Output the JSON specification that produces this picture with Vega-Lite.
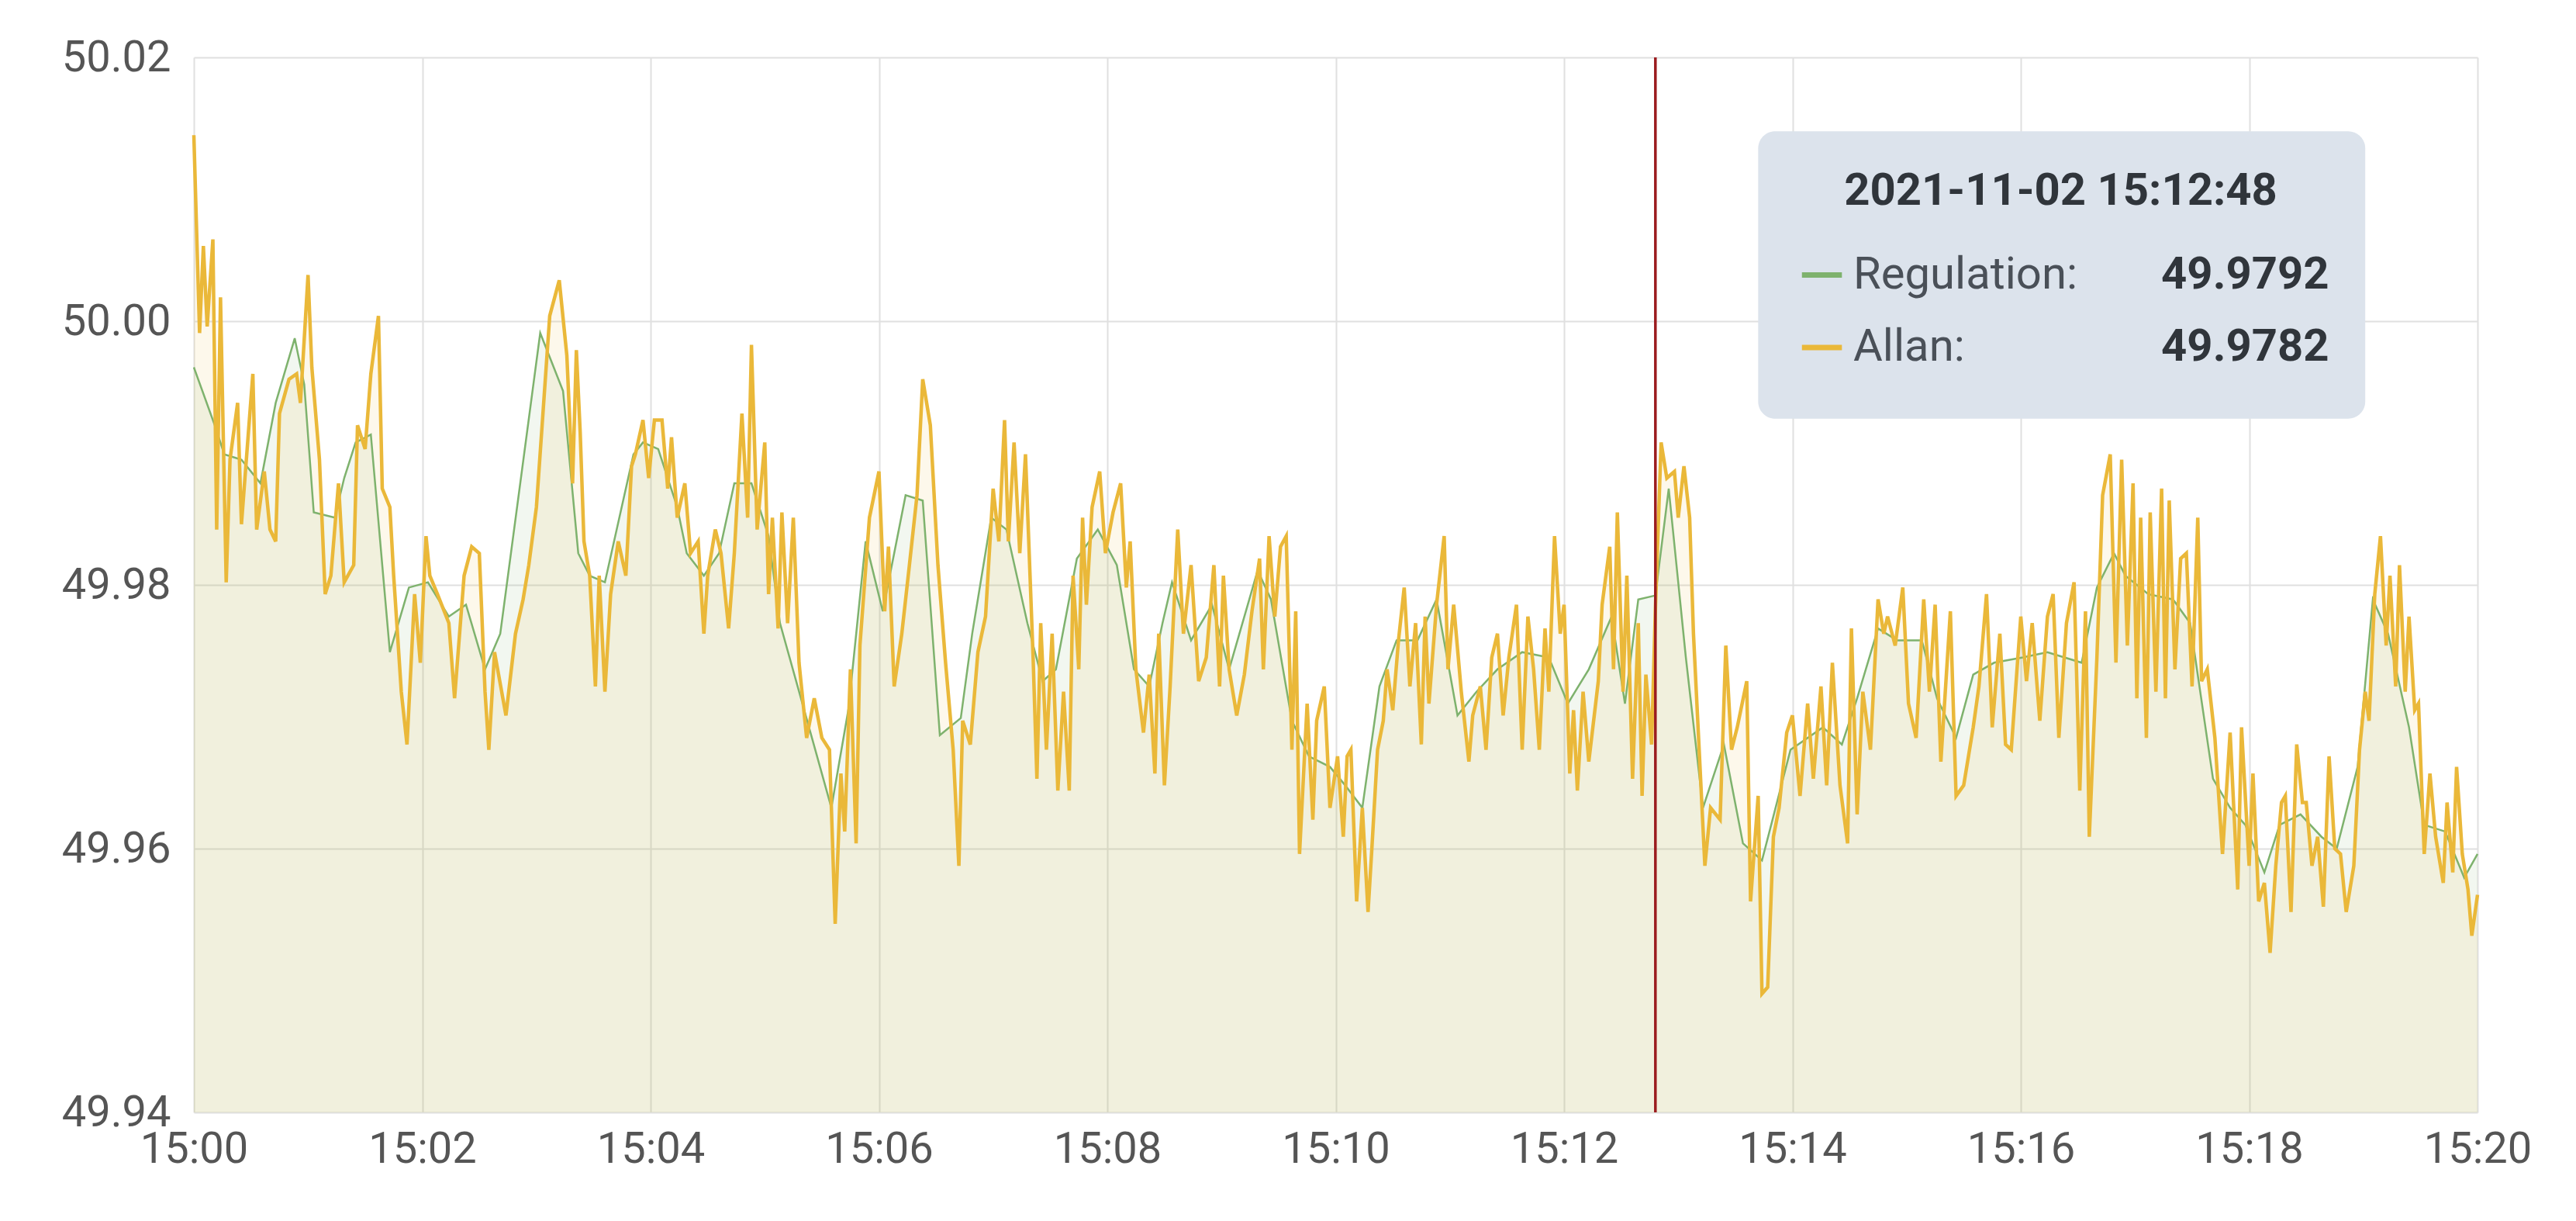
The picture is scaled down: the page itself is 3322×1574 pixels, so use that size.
{
"$schema":"https://vega.github.io/schema/vega-lite/v6.json",
"width":2945,"height":1360,
"autosize":{"type":"none"},
"padding":{"left":250,"top":74,"right":127,"bottom":140},
"background":"white",
"config":{"view":{"stroke":null},"font":"Roboto",
"axis":{"domain":false,"ticks":false,"grid":true,"gridColor":"#e0e0e0","gridWidth":2,"labelFont":"Roboto","labelFontSize":56,"labelColor":"#555555","title":null,"labelFlush":false,"labelOverlap":false}},
"datasets":{
"regulationData":[
{"t":"2021-11-02 15:00:00","v":49.9965},{"t":"2021-11-02 15:00:11","v":49.9921},{"t":"2021-11-02 15:00:16","v":49.9899},{"t":"2021-11-02 15:00:25","v":49.9895},{"t":"2021-11-02 15:00:35","v":49.9877},{"t":"2021-11-02 15:00:43","v":49.9938},{"t":"2021-11-02 15:00:53","v":49.9987},{"t":"2021-11-02 15:00:58","v":49.9952},{"t":"2021-11-02 15:01:03","v":49.9855},{"t":"2021-11-02 15:01:14","v":49.9851},{"t":"2021-11-02 15:01:19","v":49.9881},{"t":"2021-11-02 15:01:25","v":49.9908},{"t":"2021-11-02 15:01:33","v":49.9914},{"t":"2021-11-02 15:01:43","v":49.9749},{"t":"2021-11-02 15:01:53","v":49.9798},{"t":"2021-11-02 15:02:03","v":49.9802},{"t":"2021-11-02 15:02:14","v":49.9776},{"t":"2021-11-02 15:02:23","v":49.9785},{"t":"2021-11-02 15:02:33","v":49.9736},{"t":"2021-11-02 15:02:41","v":49.9763},{"t":"2021-11-02 15:03:02","v":49.9991},{"t":"2021-11-02 15:03:14","v":49.9947},{"t":"2021-11-02 15:03:22","v":49.9824},{"t":"2021-11-02 15:03:28","v":49.9807},{"t":"2021-11-02 15:03:36","v":49.9802},{"t":"2021-11-02 15:03:51","v":49.9899},{"t":"2021-11-02 15:03:56","v":49.9908},{"t":"2021-11-02 15:04:04","v":49.9903},{"t":"2021-11-02 15:04:14","v":49.9859},{"t":"2021-11-02 15:04:19","v":49.9824},{"t":"2021-11-02 15:04:28","v":49.9807},{"t":"2021-11-02 15:04:36","v":49.9824},{"t":"2021-11-02 15:04:44","v":49.9877},{"t":"2021-11-02 15:04:53","v":49.9877},{"t":"2021-11-02 15:05:02","v":49.9837},{"t":"2021-11-02 15:05:08","v":49.9771},{"t":"2021-11-02 15:05:19","v":49.9714},{"t":"2021-11-02 15:05:35","v":49.9631},{"t":"2021-11-02 15:05:44","v":49.9706},{"t":"2021-11-02 15:05:53","v":49.9833},{"t":"2021-11-02 15:06:02","v":49.978},{"t":"2021-11-02 15:06:14","v":49.9868},{"t":"2021-11-02 15:06:23","v":49.9864},{"t":"2021-11-02 15:06:32","v":49.9686},{"t":"2021-11-02 15:06:43","v":49.9699},{"t":"2021-11-02 15:06:49","v":49.9763},{"t":"2021-11-02 15:06:59","v":49.9851},{"t":"2021-11-02 15:07:07","v":49.9842},{"t":"2021-11-02 15:07:18","v":49.9771},{"t":"2021-11-02 15:07:26","v":49.9727},{"t":"2021-11-02 15:07:33","v":49.9736},{"t":"2021-11-02 15:07:44","v":49.982},{"t":"2021-11-02 15:07:55","v":49.9842},{"t":"2021-11-02 15:08:05","v":49.9815},{"t":"2021-11-02 15:08:14","v":49.9736},{"t":"2021-11-02 15:08:22","v":49.9723},{"t":"2021-11-02 15:08:29","v":49.9771},{"t":"2021-11-02 15:08:34","v":49.9802},{"t":"2021-11-02 15:08:44","v":49.9758},{"t":"2021-11-02 15:08:55","v":49.9785},{"t":"2021-11-02 15:09:04","v":49.9736},{"t":"2021-11-02 15:09:19","v":49.9811},{"t":"2021-11-02 15:09:26","v":49.9789},{"t":"2021-11-02 15:09:37","v":49.9697},{"t":"2021-11-02 15:09:46","v":49.967},{"t":"2021-11-02 15:09:57","v":49.9662},{"t":"2021-11-02 15:10:05","v":49.9648},{"t":"2021-11-02 15:10:14","v":49.9631},{"t":"2021-11-02 15:10:23","v":49.9723},{"t":"2021-11-02 15:10:32","v":49.9758},{"t":"2021-11-02 15:10:43","v":49.9758},{"t":"2021-11-02 15:10:53","v":49.9789},{"t":"2021-11-02 15:11:04","v":49.9701},{"t":"2021-11-02 15:11:14","v":49.9719},{"t":"2021-11-02 15:11:25","v":49.9736},{"t":"2021-11-02 15:11:38","v":49.9749},{"t":"2021-11-02 15:11:52","v":49.9745},{"t":"2021-11-02 15:12:02","v":49.971},{"t":"2021-11-02 15:12:13","v":49.9736},{"t":"2021-11-02 15:12:25","v":49.9776},{"t":"2021-11-02 15:12:32","v":49.971},{"t":"2021-11-02 15:12:39","v":49.9789},{"t":"2021-11-02 15:12:48","v":49.9792},{"t":"2021-11-02 15:12:55","v":49.9873},{"t":"2021-11-02 15:13:04","v":49.9745},{"t":"2021-11-02 15:13:13","v":49.9631},{"t":"2021-11-02 15:13:24","v":49.9679},{"t":"2021-11-02 15:13:34","v":49.9604},{"t":"2021-11-02 15:13:44","v":49.9591},{"t":"2021-11-02 15:13:59","v":49.9675},{"t":"2021-11-02 15:14:16","v":49.9692},{"t":"2021-11-02 15:14:26","v":49.9679},{"t":"2021-11-02 15:14:34","v":49.9714},{"t":"2021-11-02 15:14:45","v":49.9767},{"t":"2021-11-02 15:14:55","v":49.9758},{"t":"2021-11-02 15:15:08","v":49.9758},{"t":"2021-11-02 15:15:16","v":49.9714},{"t":"2021-11-02 15:15:26","v":49.9684},{"t":"2021-11-02 15:15:35","v":49.9732},{"t":"2021-11-02 15:15:46","v":49.9741},{"t":"2021-11-02 15:16:01","v":49.9745},{"t":"2021-11-02 15:16:14","v":49.9749},{"t":"2021-11-02 15:16:32","v":49.9741},{"t":"2021-11-02 15:16:40","v":49.9798},{"t":"2021-11-02 15:16:49","v":49.9824},{"t":"2021-11-02 15:16:55","v":49.9807},{"t":"2021-11-02 15:17:07","v":49.9793},{"t":"2021-11-02 15:17:20","v":49.9789},{"t":"2021-11-02 15:17:29","v":49.9771},{"t":"2021-11-02 15:17:41","v":49.9653},{"t":"2021-11-02 15:17:50","v":49.9631},{"t":"2021-11-02 15:17:58","v":49.9618},{"t":"2021-11-02 15:18:08","v":49.9582},{"t":"2021-11-02 15:18:16","v":49.9618},{"t":"2021-11-02 15:18:27","v":49.9626},{"t":"2021-11-02 15:18:38","v":49.9609},{"t":"2021-11-02 15:18:46","v":49.96},{"t":"2021-11-02 15:18:57","v":49.9662},{"t":"2021-11-02 15:19:05","v":49.9789},{"t":"2021-11-02 15:19:13","v":49.9763},{"t":"2021-11-02 15:19:24","v":49.9692},{"t":"2021-11-02 15:19:32","v":49.9618},{"t":"2021-11-02 15:19:43","v":49.9613},{"t":"2021-11-02 15:19:53","v":49.9578},{"t":"2021-11-02 15:20:00","v":49.9596}
],
"allanData":[
{"t":"2021-11-02 15:00:00","v":50.0141},{"t":"2021-11-02 15:00:03","v":49.9991},{"t":"2021-11-02 15:00:05","v":50.0057},{"t":"2021-11-02 15:00:07","v":49.9996},{"t":"2021-11-02 15:00:10","v":50.0062},{"t":"2021-11-02 15:00:12","v":49.9842},{"t":"2021-11-02 15:00:14","v":50.0018},{"t":"2021-11-02 15:00:17","v":49.9802},{"t":"2021-11-02 15:00:19","v":49.9895},{"t":"2021-11-02 15:00:23","v":49.9938},{"t":"2021-11-02 15:00:25","v":49.9846},{"t":"2021-11-02 15:00:31","v":49.996},{"t":"2021-11-02 15:00:33","v":49.9842},{"t":"2021-11-02 15:00:37","v":49.9886},{"t":"2021-11-02 15:00:40","v":49.9842},{"t":"2021-11-02 15:00:43","v":49.9833},{"t":"2021-11-02 15:00:45","v":49.993},{"t":"2021-11-02 15:00:50","v":49.9956},{"t":"2021-11-02 15:00:54","v":49.996},{"t":"2021-11-02 15:00:56","v":49.9938},{"t":"2021-11-02 15:01:00","v":50.0035},{"t":"2021-11-02 15:01:02","v":49.9965},{"t":"2021-11-02 15:01:06","v":49.9895},{"t":"2021-11-02 15:01:09","v":49.9793},{"t":"2021-11-02 15:01:12","v":49.9807},{"t":"2021-11-02 15:01:16","v":49.9877},{"t":"2021-11-02 15:01:19","v":49.9802},{"t":"2021-11-02 15:01:24","v":49.9815},{"t":"2021-11-02 15:01:26","v":49.9921},{"t":"2021-11-02 15:01:30","v":49.9903},{"t":"2021-11-02 15:01:33","v":49.996},{"t":"2021-11-02 15:01:37","v":50.0004},{"t":"2021-11-02 15:01:39","v":49.9873},{"t":"2021-11-02 15:01:43","v":49.9859},{"t":"2021-11-02 15:01:45","v":49.9807},{"t":"2021-11-02 15:01:49","v":49.9719},{"t":"2021-11-02 15:01:52","v":49.9679},{"t":"2021-11-02 15:01:56","v":49.9793},{"t":"2021-11-02 15:01:59","v":49.9741},{"t":"2021-11-02 15:02:02","v":49.9837},{"t":"2021-11-02 15:02:04","v":49.9807},{"t":"2021-11-02 15:02:08","v":49.9793},{"t":"2021-11-02 15:02:14","v":49.9771},{"t":"2021-11-02 15:02:17","v":49.9714},{"t":"2021-11-02 15:02:22","v":49.9807},{"t":"2021-11-02 15:02:26","v":49.9829},{"t":"2021-11-02 15:02:30","v":49.9824},{"t":"2021-11-02 15:02:33","v":49.9719},{"t":"2021-11-02 15:02:35","v":49.9675},{"t":"2021-11-02 15:02:38","v":49.9749},{"t":"2021-11-02 15:02:44","v":49.9701},{"t":"2021-11-02 15:02:49","v":49.9763},{"t":"2021-11-02 15:02:53","v":49.9789},{"t":"2021-11-02 15:02:56","v":49.9815},{"t":"2021-11-02 15:03:00","v":49.9859},{"t":"2021-11-02 15:03:03","v":49.9921},{"t":"2021-11-02 15:03:07","v":50.0004},{"t":"2021-11-02 15:03:12","v":50.0031},{"t":"2021-11-02 15:03:16","v":49.9974},{"t":"2021-11-02 15:03:19","v":49.9877},
{"t":"2021-11-02 15:03:21","v":49.9978},{"t":"2021-11-02 15:03:23","v":49.9916},{"t":"2021-11-02 15:03:25","v":49.9833},{"t":"2021-11-02 15:03:28","v":49.9807},{"t":"2021-11-02 15:03:31","v":49.9723},{"t":"2021-11-02 15:03:33","v":49.9807},{"t":"2021-11-02 15:03:36","v":49.9719},{"t":"2021-11-02 15:03:39","v":49.9793},{"t":"2021-11-02 15:03:43","v":49.9833},{"t":"2021-11-02 15:03:47","v":49.9807},{"t":"2021-11-02 15:03:50","v":49.989},{"t":"2021-11-02 15:03:52","v":49.9899},{"t":"2021-11-02 15:03:56","v":49.9925},{"t":"2021-11-02 15:03:59","v":49.9881},{"t":"2021-11-02 15:04:02","v":49.9925},{"t":"2021-11-02 15:04:06","v":49.9925},{"t":"2021-11-02 15:04:09","v":49.9873},{"t":"2021-11-02 15:04:11","v":49.9912},{"t":"2021-11-02 15:04:14","v":49.9851},{"t":"2021-11-02 15:04:18","v":49.9877},{"t":"2021-11-02 15:04:21","v":49.9824},{"t":"2021-11-02 15:04:25","v":49.9833},{"t":"2021-11-02 15:04:28","v":49.9763},{"t":"2021-11-02 15:04:30","v":49.9807},{"t":"2021-11-02 15:04:34","v":49.9842},{"t":"2021-11-02 15:04:37","v":49.9824},{"t":"2021-11-02 15:04:41","v":49.9767},{"t":"2021-11-02 15:04:44","v":49.9824},{"t":"2021-11-02 15:04:48","v":49.993},{"t":"2021-11-02 15:04:51","v":49.9851},{"t":"2021-11-02 15:04:53","v":49.9982},{"t":"2021-11-02 15:04:56","v":49.9842},{"t":"2021-11-02 15:05:00","v":49.9908},{"t":"2021-11-02 15:05:02","v":49.9793},{"t":"2021-11-02 15:05:04","v":49.9851},{"t":"2021-11-02 15:05:07","v":49.9767},{"t":"2021-11-02 15:05:09","v":49.9855},{"t":"2021-11-02 15:05:12","v":49.9771},{"t":"2021-11-02 15:05:15","v":49.9851},{"t":"2021-11-02 15:05:18","v":49.9741},{"t":"2021-11-02 15:05:22","v":49.9684},{"t":"2021-11-02 15:05:26","v":49.9714},{"t":"2021-11-02 15:05:30","v":49.9684},{"t":"2021-11-02 15:05:34","v":49.9675},{"t":"2021-11-02 15:05:37","v":49.9543},{"t":"2021-11-02 15:05:40","v":49.9657},{"t":"2021-11-02 15:05:42","v":49.9613},{"t":"2021-11-02 15:05:45","v":49.9736},{"t":"2021-11-02 15:05:48","v":49.9604},{"t":"2021-11-02 15:05:50","v":49.9754},{"t":"2021-11-02 15:05:55","v":49.9851},{"t":"2021-11-02 15:06:00","v":49.9886},{"t":"2021-11-02 15:06:03","v":49.978},{"t":"2021-11-02 15:06:05","v":49.9829},{"t":"2021-11-02 15:06:08","v":49.9723},{"t":"2021-11-02 15:06:12","v":49.9763},{"t":"2021-11-02 15:06:16","v":49.9815},{"t":"2021-11-02 15:06:20","v":49.9868},{"t":"2021-11-02 15:06:23","v":49.9956},{"t":"2021-11-02 15:06:27","v":49.9921},{"t":"2021-11-02 15:06:31","v":49.9815},{"t":"2021-11-02 15:06:35","v":49.9741},{"t":"2021-11-02 15:06:39","v":49.9675},{"t":"2021-11-02 15:06:42","v":49.9587},
{"t":"2021-11-02 15:06:44","v":49.9697},{"t":"2021-11-02 15:06:48","v":49.9679},{"t":"2021-11-02 15:06:52","v":49.9749},{"t":"2021-11-02 15:06:56","v":49.9776},{"t":"2021-11-02 15:07:00","v":49.9873},{"t":"2021-11-02 15:07:03","v":49.9833},{"t":"2021-11-02 15:07:06","v":49.9925},{"t":"2021-11-02 15:07:08","v":49.9833},{"t":"2021-11-02 15:07:11","v":49.9908},{"t":"2021-11-02 15:07:14","v":49.9824},{"t":"2021-11-02 15:07:17","v":49.9899},{"t":"2021-11-02 15:07:21","v":49.9745},{"t":"2021-11-02 15:07:23","v":49.9653},{"t":"2021-11-02 15:07:25","v":49.9771},{"t":"2021-11-02 15:07:28","v":49.9675},{"t":"2021-11-02 15:07:31","v":49.9763},{"t":"2021-11-02 15:07:34","v":49.9644},{"t":"2021-11-02 15:07:37","v":49.9719},{"t":"2021-11-02 15:07:40","v":49.9644},{"t":"2021-11-02 15:07:42","v":49.9807},{"t":"2021-11-02 15:07:45","v":49.9736},{"t":"2021-11-02 15:07:47","v":49.9851},{"t":"2021-11-02 15:07:49","v":49.9785},{"t":"2021-11-02 15:07:52","v":49.9859},{"t":"2021-11-02 15:07:56","v":49.9886},{"t":"2021-11-02 15:07:59","v":49.9824},{"t":"2021-11-02 15:08:03","v":49.9855},{"t":"2021-11-02 15:08:07","v":49.9877},{"t":"2021-11-02 15:08:10","v":49.9798},{"t":"2021-11-02 15:08:12","v":49.9833},{"t":"2021-11-02 15:08:15","v":49.9736},{"t":"2021-11-02 15:08:19","v":49.9688},{"t":"2021-11-02 15:08:22","v":49.9732},{"t":"2021-11-02 15:08:25","v":49.9657},{"t":"2021-11-02 15:08:27","v":49.9763},{"t":"2021-11-02 15:08:30","v":49.9648},{"t":"2021-11-02 15:08:33","v":49.9723},{"t":"2021-11-02 15:08:37","v":49.9842},{"t":"2021-11-02 15:08:40","v":49.9763},{"t":"2021-11-02 15:08:44","v":49.9815},{"t":"2021-11-02 15:08:48","v":49.9727},{"t":"2021-11-02 15:08:52","v":49.9745},{"t":"2021-11-02 15:08:56","v":49.9815},{"t":"2021-11-02 15:08:59","v":49.9723},{"t":"2021-11-02 15:09:01","v":49.9807},{"t":"2021-11-02 15:09:04","v":49.9736},{"t":"2021-11-02 15:09:08","v":49.9701},{"t":"2021-11-02 15:09:12","v":49.9732},{"t":"2021-11-02 15:09:16","v":49.978},{"t":"2021-11-02 15:09:20","v":49.982},{"t":"2021-11-02 15:09:22","v":49.9736},{"t":"2021-11-02 15:09:25","v":49.9837},{"t":"2021-11-02 15:09:28","v":49.9776},{"t":"2021-11-02 15:09:31","v":49.9829},{"t":"2021-11-02 15:09:34","v":49.9837},{"t":"2021-11-02 15:09:37","v":49.9675},{"t":"2021-11-02 15:09:39","v":49.978},{"t":"2021-11-02 15:09:41","v":49.9596},{"t":"2021-11-02 15:09:45","v":49.971},{"t":"2021-11-02 15:09:48","v":49.9622},{"t":"2021-11-02 15:09:50","v":49.9697},{"t":"2021-11-02 15:09:54","v":49.9723},{"t":"2021-11-02 15:09:57","v":49.9631},{"t":"2021-11-02 15:10:01","v":49.967},{"t":"2021-11-02 15:10:04","v":49.9609},
{"t":"2021-11-02 15:10:06","v":49.967},{"t":"2021-11-02 15:10:08","v":49.9675},{"t":"2021-11-02 15:10:11","v":49.956},{"t":"2021-11-02 15:10:14","v":49.9631},{"t":"2021-11-02 15:10:17","v":49.9552},{"t":"2021-11-02 15:10:19","v":49.96},{"t":"2021-11-02 15:10:22","v":49.9675},{"t":"2021-11-02 15:10:25","v":49.9697},{"t":"2021-11-02 15:10:27","v":49.9736},{"t":"2021-11-02 15:10:30","v":49.9705},{"t":"2021-11-02 15:10:33","v":49.9758},{"t":"2021-11-02 15:10:36","v":49.9798},{"t":"2021-11-02 15:10:39","v":49.9723},{"t":"2021-11-02 15:10:42","v":49.9771},{"t":"2021-11-02 15:10:45","v":49.9679},{"t":"2021-11-02 15:10:47","v":49.9776},{"t":"2021-11-02 15:10:49","v":49.971},{"t":"2021-11-02 15:10:53","v":49.9785},{"t":"2021-11-02 15:10:57","v":49.9837},{"t":"2021-11-02 15:10:59","v":49.9736},{"t":"2021-11-02 15:11:02","v":49.9785},{"t":"2021-11-02 15:11:06","v":49.9719},{"t":"2021-11-02 15:11:10","v":49.9666},{"t":"2021-11-02 15:11:12","v":49.9701},{"t":"2021-11-02 15:11:16","v":49.9723},{"t":"2021-11-02 15:11:19","v":49.9675},{"t":"2021-11-02 15:11:22","v":49.9745},{"t":"2021-11-02 15:11:25","v":49.9763},{"t":"2021-11-02 15:11:28","v":49.9701},{"t":"2021-11-02 15:11:31","v":49.9745},{"t":"2021-11-02 15:11:35","v":49.9785},{"t":"2021-11-02 15:11:38","v":49.9675},{"t":"2021-11-02 15:11:41","v":49.9776},{"t":"2021-11-02 15:11:44","v":49.9736},{"t":"2021-11-02 15:11:47","v":49.9675},{"t":"2021-11-02 15:11:50","v":49.9767},{"t":"2021-11-02 15:11:52","v":49.9719},{"t":"2021-11-02 15:11:55","v":49.9837},{"t":"2021-11-02 15:11:58","v":49.9763},{"t":"2021-11-02 15:12:00","v":49.9785},{"t":"2021-11-02 15:12:03","v":49.9657},{"t":"2021-11-02 15:12:05","v":49.9705},{"t":"2021-11-02 15:12:07","v":49.9644},{"t":"2021-11-02 15:12:10","v":49.9719},{"t":"2021-11-02 15:12:13","v":49.9666},{"t":"2021-11-02 15:12:18","v":49.9727},{"t":"2021-11-02 15:12:20","v":49.9785},{"t":"2021-11-02 15:12:24","v":49.9829},{"t":"2021-11-02 15:12:26","v":49.9736},{"t":"2021-11-02 15:12:28","v":49.9855},{"t":"2021-11-02 15:12:31","v":49.9719},{"t":"2021-11-02 15:12:33","v":49.9807},{"t":"2021-11-02 15:12:36","v":49.9653},{"t":"2021-11-02 15:12:39","v":49.9771},{"t":"2021-11-02 15:12:41","v":49.964},{"t":"2021-11-02 15:12:43","v":49.9732},{"t":"2021-11-02 15:12:46","v":49.9679},{"t":"2021-11-02 15:12:48","v":49.9782},{"t":"2021-11-02 15:12:51","v":49.9908},{"t":"2021-11-02 15:12:54","v":49.9881},{"t":"2021-11-02 15:12:58","v":49.9886},{"t":"2021-11-02 15:13:00","v":49.9851},{"t":"2021-11-02 15:13:03","v":49.989},{"t":"2021-11-02 15:13:06","v":49.9851},{"t":"2021-11-02 15:13:08","v":49.9763},{"t":"2021-11-02 15:13:11","v":49.9675},{"t":"2021-11-02 15:13:14","v":49.9587},{"t":"2021-11-02 15:13:17","v":49.9631},{"t":"2021-11-02 15:13:22","v":49.9622},{"t":"2021-11-02 15:13:25","v":49.9754},
{"t":"2021-11-02 15:13:28","v":49.9675},{"t":"2021-11-02 15:13:31","v":49.9692},{"t":"2021-11-02 15:13:36","v":49.9727},{"t":"2021-11-02 15:13:38","v":49.956},{"t":"2021-11-02 15:13:42","v":49.964},{"t":"2021-11-02 15:13:44","v":49.949},{"t":"2021-11-02 15:13:47","v":49.9495},{"t":"2021-11-02 15:13:50","v":49.9609},{"t":"2021-11-02 15:13:53","v":49.9631},{"t":"2021-11-02 15:13:57","v":49.9688},{"t":"2021-11-02 15:14:00","v":49.9701},{"t":"2021-11-02 15:14:04","v":49.964},{"t":"2021-11-02 15:14:08","v":49.971},{"t":"2021-11-02 15:14:11","v":49.9653},{"t":"2021-11-02 15:14:15","v":49.9723},{"t":"2021-11-02 15:14:18","v":49.9648},{"t":"2021-11-02 15:14:21","v":49.9741},{"t":"2021-11-02 15:14:25","v":49.9648},{"t":"2021-11-02 15:14:29","v":49.9604},{"t":"2021-11-02 15:14:31","v":49.9767},{"t":"2021-11-02 15:14:34","v":49.9626},{"t":"2021-11-02 15:14:37","v":49.9719},{"t":"2021-11-02 15:14:41","v":49.9675},{"t":"2021-11-02 15:14:45","v":49.9789},{"t":"2021-11-02 15:14:48","v":49.9763},{"t":"2021-11-02 15:14:50","v":49.9776},{"t":"2021-11-02 15:14:54","v":49.9754},{"t":"2021-11-02 15:14:58","v":49.9798},{"t":"2021-11-02 15:15:01","v":49.971},{"t":"2021-11-02 15:15:05","v":49.9684},{"t":"2021-11-02 15:15:09","v":49.9789},{"t":"2021-11-02 15:15:12","v":49.9719},{"t":"2021-11-02 15:15:15","v":49.9785},{"t":"2021-11-02 15:15:18","v":49.9666},{"t":"2021-11-02 15:15:23","v":49.978},{"t":"2021-11-02 15:15:26","v":49.964},{"t":"2021-11-02 15:15:30","v":49.9648},{"t":"2021-11-02 15:15:35","v":49.9692},{"t":"2021-11-02 15:15:38","v":49.9723},{"t":"2021-11-02 15:15:42","v":49.9793},{"t":"2021-11-02 15:15:45","v":49.9692},{"t":"2021-11-02 15:15:49","v":49.9763},{"t":"2021-11-02 15:15:52","v":49.9679},{"t":"2021-11-02 15:15:55","v":49.9675},{"t":"2021-11-02 15:16:00","v":49.9776},{"t":"2021-11-02 15:16:03","v":49.9727},{"t":"2021-11-02 15:16:06","v":49.9771},{"t":"2021-11-02 15:16:10","v":49.9697},{"t":"2021-11-02 15:16:14","v":49.9776},{"t":"2021-11-02 15:16:17","v":49.9793},{"t":"2021-11-02 15:16:20","v":49.9684},{"t":"2021-11-02 15:16:24","v":49.9771},{"t":"2021-11-02 15:16:28","v":49.9802},{"t":"2021-11-02 15:16:31","v":49.9644},{"t":"2021-11-02 15:16:34","v":49.978},{"t":"2021-11-02 15:16:36","v":49.9609},{"t":"2021-11-02 15:16:40","v":49.9745},{"t":"2021-11-02 15:16:43","v":49.9868},{"t":"2021-11-02 15:16:47","v":49.9899},
{"t":"2021-11-02 15:16:50","v":49.9741},{"t":"2021-11-02 15:16:53","v":49.9895},{"t":"2021-11-02 15:16:56","v":49.9754},{"t":"2021-11-02 15:16:59","v":49.9877},{"t":"2021-11-02 15:17:01","v":49.9714},{"t":"2021-11-02 15:17:03","v":49.9851},{"t":"2021-11-02 15:17:06","v":49.9684},{"t":"2021-11-02 15:17:08","v":49.9855},{"t":"2021-11-02 15:17:11","v":49.9719},{"t":"2021-11-02 15:17:14","v":49.9873},{"t":"2021-11-02 15:17:16","v":49.9714},{"t":"2021-11-02 15:17:18","v":49.9864},{"t":"2021-11-02 15:17:21","v":49.9736},{"t":"2021-11-02 15:17:24","v":49.982},{"t":"2021-11-02 15:17:27","v":49.9824},{"t":"2021-11-02 15:17:30","v":49.9723},{"t":"2021-11-02 15:17:33","v":49.9851},{"t":"2021-11-02 15:17:35","v":49.9727},{"t":"2021-11-02 15:17:38","v":49.9736},{"t":"2021-11-02 15:17:42","v":49.9684},{"t":"2021-11-02 15:17:46","v":49.9596},{"t":"2021-11-02 15:17:50","v":49.9688},{"t":"2021-11-02 15:17:54","v":49.9569},{"t":"2021-11-02 15:17:56","v":49.9692},{"t":"2021-11-02 15:18:00","v":49.9587},{"t":"2021-11-02 15:18:02","v":49.9657},{"t":"2021-11-02 15:18:05","v":49.956},{"t":"2021-11-02 15:18:08","v":49.9574},{"t":"2021-11-02 15:18:11","v":49.9521},{"t":"2021-11-02 15:18:14","v":49.9587},{"t":"2021-11-02 15:18:17","v":49.9635},{"t":"2021-11-02 15:18:19","v":49.964},{"t":"2021-11-02 15:18:22","v":49.9552},{"t":"2021-11-02 15:18:25","v":49.9679},{"t":"2021-11-02 15:18:28","v":49.9635},{"t":"2021-11-02 15:18:30","v":49.9635},{"t":"2021-11-02 15:18:33","v":49.9587},{"t":"2021-11-02 15:18:36","v":49.9609},{"t":"2021-11-02 15:18:39","v":49.9556},{"t":"2021-11-02 15:18:42","v":49.967},{"t":"2021-11-02 15:18:45","v":49.96},{"t":"2021-11-02 15:18:48","v":49.9596},{"t":"2021-11-02 15:18:51","v":49.9552},{"t":"2021-11-02 15:18:55","v":49.9587},{"t":"2021-11-02 15:18:58","v":49.9675},{"t":"2021-11-02 15:19:01","v":49.9719},{"t":"2021-11-02 15:19:03","v":49.9697},{"t":"2021-11-02 15:19:06","v":49.9793},{"t":"2021-11-02 15:19:09","v":49.9837},{"t":"2021-11-02 15:19:12","v":49.9754},{"t":"2021-11-02 15:19:14","v":49.9807},{"t":"2021-11-02 15:19:17","v":49.9723},{"t":"2021-11-02 15:19:19","v":49.9815},{"t":"2021-11-02 15:19:22","v":49.9719},{"t":"2021-11-02 15:19:24","v":49.9776},{"t":"2021-11-02 15:19:27","v":49.9705},{"t":"2021-11-02 15:19:29","v":49.971},{"t":"2021-11-02 15:19:32","v":49.9596},{"t":"2021-11-02 15:19:35","v":49.9657},{"t":"2021-11-02 15:19:38","v":49.9609},{"t":"2021-11-02 15:19:42","v":49.9574},{"t":"2021-11-02 15:19:44","v":49.9635},{"t":"2021-11-02 15:19:47","v":49.9582},{"t":"2021-11-02 15:19:49","v":49.9662},{"t":"2021-11-02 15:19:52","v":49.9596},{"t":"2021-11-02 15:19:55","v":49.9569},{"t":"2021-11-02 15:19:57","v":49.9534},{"t":"2021-11-02 15:20:00","v":49.9565}
],
"hoverData":[{"t":"2021-11-02 15:12:48"}],
"tipBoxData":[{"t":"2021-11-02 15:13:42","t2":"2021-11-02 15:19:01","v":50.0144,"v2":49.9926}],
"tipHeadData":[{"t":"2021-11-02 15:16:21","v":50.0098,"text":"2021-11-02 15:12:48"}],
"tipRowData":[
{"series":"Regulation","t":"2021-11-02 15:14:05","t2":"2021-11-02 15:14:26","tl":"2021-11-02 15:14:32","tv":"2021-11-02 15:18:42","v":50.0035,"label":"Regulation:","value":"49.9792"},
{"series":"Allan","t":"2021-11-02 15:14:05","t2":"2021-11-02 15:14:26","tl":"2021-11-02 15:14:32","tv":"2021-11-02 15:18:42","v":49.998,"label":"Allan:","value":"49.9782"}
]
},
"layer":[
{"data":{"name":"regulationData"},"mark":{"type":"area","color":"#7EB26D","opacity":0.1,"clip":true},
 "encoding":{
 "x":{"field":"t","type":"temporal","scale":{"nice":false},"axis":{"format":"%H:%M","values":[
 {"year":2021,"month":11,"date":2,"hours":15,"minutes":0},{"year":2021,"month":11,"date":2,"hours":15,"minutes":2},{"year":2021,"month":11,"date":2,"hours":15,"minutes":4},{"year":2021,"month":11,"date":2,"hours":15,"minutes":6},{"year":2021,"month":11,"date":2,"hours":15,"minutes":8},{"year":2021,"month":11,"date":2,"hours":15,"minutes":10},{"year":2021,"month":11,"date":2,"hours":15,"minutes":12},{"year":2021,"month":11,"date":2,"hours":15,"minutes":14},{"year":2021,"month":11,"date":2,"hours":15,"minutes":16},{"year":2021,"month":11,"date":2,"hours":15,"minutes":18},{"year":2021,"month":11,"date":2,"hours":15,"minutes":20}],"labelPadding":20,"labelFlush":false}},
 "y":{"field":"v","type":"quantitative","scale":{"domain":[49.94,50.02],"nice":false,"zero":false},"axis":{"values":[49.94,49.96,49.98,50,50.02],"format":".2f","labelPadding":30,"labelFlush":false}}}},
{"data":{"name":"allanData"},"mark":{"type":"area","color":"#EAB839","opacity":0.1,"clip":true},"encoding":{"x":{"field":"t","type":"temporal"},"y":{"field":"v","type":"quantitative"}}},
{"data":{"name":"regulationData"},"mark":{"type":"line","color":"#7EB26D","strokeWidth":2.5},"encoding":{"x":{"field":"t","type":"temporal"},"y":{"field":"v","type":"quantitative"}}},
{"data":{"name":"allanData"},"mark":{"type":"line","color":"#EAB839","strokeWidth":4.5},"encoding":{"x":{"field":"t","type":"temporal"},"y":{"field":"v","type":"quantitative"}}},
{"data":{"name":"hoverData"},"mark":{"type":"rule","color":"#9b1c1f","strokeWidth":3.5},"encoding":{"x":{"field":"t","type":"temporal"}}},
{"data":{"name":"tipBoxData","format":{"parse":{"t2":"date"}}},"mark":{"type":"rect","color":"#dce3ec","cornerRadius":22},"encoding":{"x":{"field":"t","type":"temporal"},"x2":{"field":"t2"},"y":{"field":"v","type":"quantitative"},"y2":{"field":"v2"}}},
{"data":{"name":"tipHeadData"},"mark":{"type":"text","align":"center","baseline":"middle","fontWeight":"bold","fontSize":58,"color":"#30353b","font":"Roboto"},"encoding":{"x":{"field":"t","type":"temporal"},"y":{"field":"v","type":"quantitative"},"text":{"field":"text"}}},
{"data":{"name":"tipRowData","format":{"parse":{"t2":"date"}}},"mark":{"type":"rule","strokeWidth":7},"encoding":{"x":{"field":"t","type":"temporal"},"x2":{"field":"t2"},"y":{"field":"v","type":"quantitative"},"color":{"field":"series","type":"nominal","scale":{"domain":["Regulation","Allan"],"range":["#7EB26D","#EAB839"]},"legend":null}}},
{"data":{"name":"tipRowData"},"mark":{"type":"text","align":"left","baseline":"middle","fontSize":58,"color":"#4a5058","font":"Roboto"},"encoding":{"x":{"field":"tl","type":"temporal"},"y":{"field":"v","type":"quantitative"},"text":{"field":"label"}}},
{"data":{"name":"tipRowData"},"mark":{"type":"text","align":"right","baseline":"middle","fontWeight":"bold","fontSize":58,"color":"#30353b","font":"Roboto"},"encoding":{"x":{"field":"tv","type":"temporal"},"y":{"field":"v","type":"quantitative"},"text":{"field":"value"}}}
]
}
